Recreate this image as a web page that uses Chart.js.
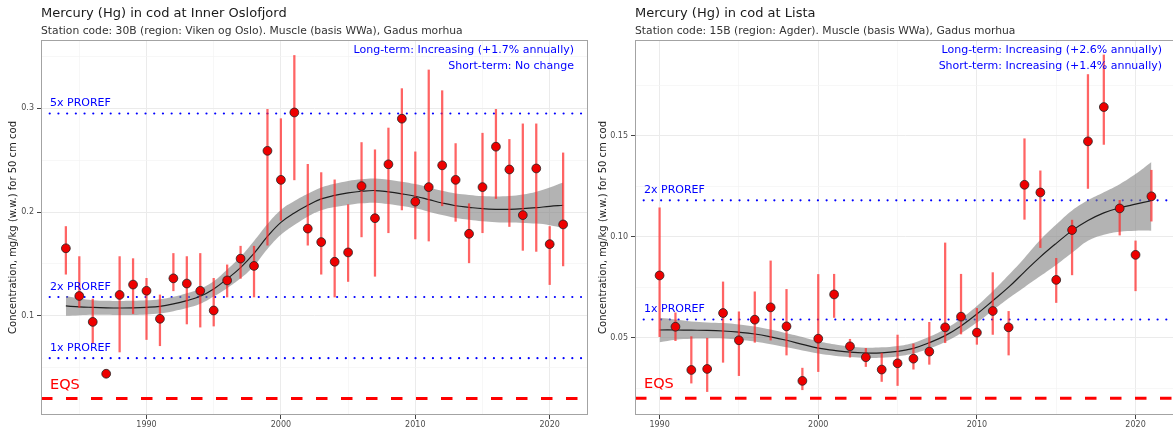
<!DOCTYPE html>
<html>
<head>
<meta charset="utf-8">
<script src="https://cdn.jsdelivr.net/npm/chart.js@4.4.0/dist/chart.umd.min.js"></script>
<style>
  html, body { margin: 0; padding: 0; background: #fff; overflow: hidden; width: 1173px; height: 432px; }
  .panel { position: absolute; top: 0; height: 432px; }
  #left { left: 0; width: 590px; }
  #right { left: 590px; width: 586px; }
</style>
</head>
<body>
<div class="panel" id="left"><canvas id="oslo"></canvas></div>
<div class="panel" id="right"><canvas id="lista"></canvas></div>
<script>
// ---- Inner Oslofjord (30B) ----
const oslo_years = [1984, 1985, 1986, 1987, 1988, 1989, 1990, 1991, 1992, 1993, 1994, 1995, 1996, 1997, 1998, 1999, 2000, 2001, 2002,
  2003, 2004, 2005, 2006, 2007, 2008, 2009, 2010, 2011, 2012, 2013, 2014, 2015, 2016, 2017, 2018, 2019, 2020, 2021];
const oslo_conc = [0.165, 0.119, 0.094, 0.044, 0.120, 0.130, 0.124, 0.097, 0.136, 0.131, 0.124, 0.105, 0.134, 0.155, 0.148, 0.259, 0.231, 0.296, 0.184,
  0.171, 0.152, 0.161, 0.225, 0.194, 0.246, 0.290, 0.210, 0.224, 0.245, 0.231, 0.179, 0.224, 0.263, 0.241, 0.197, 0.242, 0.169, 0.188];
const oslo_low = [0.140, 0.108, 0.073, 0.042, 0.065, 0.102, 0.077, 0.071, 0.124, 0.092, 0.089, 0.090, 0.118, 0.136, 0.118, 0.168, 0.192, 0.231, 0.168,
  0.140, 0.118, 0.133, 0.176, 0.138, 0.180, 0.202, 0.174, 0.172, 0.206, 0.191, 0.151, 0.180, 0.213, 0.186, 0.163, 0.162, 0.130, 0.148];
const oslo_high = [0.186, 0.157, 0.116, 0.046, 0.157, 0.155, 0.136, 0.120, 0.160, 0.157, 0.160, 0.136, 0.149, 0.167, 0.167, 0.299, 0.290, 0.351, 0.246,
  0.238, 0.231, 0.207, 0.267, 0.260, 0.281, 0.319, 0.258, 0.337, 0.317, 0.266, 0.208, 0.276, 0.299, 0.270, 0.285, 0.285, 0.186, 0.257];
const oslo_fit = [0.1094, 0.1085, 0.1080, 0.1076, 0.1074, 0.1075, 0.1080, 0.1090, 0.1113, 0.1145, 0.1187, 0.1258, 0.1355, 0.1464, 0.1600, 0.1764, 0.1900, 0.1990, 0.2065,
  0.2126, 0.2160, 0.2184, 0.2200, 0.2207, 0.2194, 0.2175, 0.2152, 0.2120, 0.2087, 0.2060, 0.2045, 0.2032, 0.2026, 0.2026, 0.2032, 0.2042, 0.2055, 0.2065];
const oslo_fit_low = [0.1000, 0.1005, 0.1010, 0.1008, 0.1006, 0.1007, 0.1012, 0.1021, 0.1043, 0.1073, 0.1114, 0.1185, 0.1265, 0.1360, 0.1480, 0.1644, 0.1780, 0.1875, 0.1955,
  0.2016, 0.2048, 0.2068, 0.2084, 0.2090, 0.2077, 0.2058, 0.2035, 0.2003, 0.1970, 0.1942, 0.1925, 0.1910, 0.1902, 0.1898, 0.1895, 0.1888, 0.1873, 0.1845];
const oslo_fit_high = [0.1190, 0.1165, 0.1150, 0.1144, 0.1142, 0.1143, 0.1148, 0.1159, 0.1183, 0.1217, 0.1260, 0.1331, 0.1445, 0.1568, 0.1720, 0.1884, 0.2020, 0.2105, 0.2175,
  0.2236, 0.2272, 0.2300, 0.2316, 0.2324, 0.2311, 0.2292, 0.2269, 0.2237, 0.2204, 0.2178, 0.2165, 0.2154, 0.2150, 0.2154, 0.2169, 0.2196, 0.2237, 0.2285];
const oslo_proref_times = [1, 2, 5];
const oslo_y_major = [0.1, 0.2, 0.3];
const oslo_y_minor = [0.05, 0.15, 0.25, 0.35];

// ---- Lista (15B) ----
const lista_years = [1990, 1991, 1992, 1993, 1994, 1995, 1996, 1997, 1998, 1999, 2000, 2001, 2002, 2003, 2004, 2005,
  2006, 2007, 2008, 2009, 2010, 2011, 2012, 2013, 2014, 2015, 2016, 2017, 2018, 2019, 2020, 2021];
const lista_conc = [0.0808, 0.0554, 0.0340, 0.0345, 0.0622, 0.0487, 0.0589, 0.0650, 0.0556, 0.0286, 0.0495, 0.0714, 0.0457, 0.0403, 0.0342, 0.0373,
  0.0396, 0.0431, 0.0551, 0.0604, 0.0525, 0.0632, 0.0551, 0.1257, 0.1219, 0.0786, 0.1033, 0.1472, 0.1642, 0.1140, 0.0910, 0.1200];
const lista_low = [0.0505, 0.0485, 0.0275, 0.0233, 0.0378, 0.0312, 0.0477, 0.0488, 0.0414, 0.0242, 0.0332, 0.0600, 0.0403, 0.0357, 0.0283, 0.0263,
  0.0344, 0.0368, 0.0475, 0.0518, 0.0467, 0.0516, 0.0414, 0.1086, 0.0946, 0.0674, 0.0811, 0.1239, 0.1457, 0.1008, 0.0732, 0.1077];
const lista_high = [0.1143, 0.0623, 0.0505, 0.0497, 0.0776, 0.0628, 0.0727, 0.0880, 0.0739, 0.0349, 0.0813, 0.0814, 0.0492, 0.0447, 0.0423, 0.0513,
  0.0469, 0.0576, 0.0969, 0.0814, 0.0645, 0.0822, 0.0630, 0.1485, 0.1326, 0.0893, 0.1082, 0.1803, 0.1900, 0.1180, 0.0979, 0.1329];
const lista_fit = [0.0538, 0.0538, 0.0537, 0.0536, 0.0533, 0.0527, 0.0518, 0.0504, 0.0487, 0.0467, 0.0448, 0.0437, 0.0428, 0.0424, 0.0425, 0.0432,
  0.0447, 0.0475, 0.0510, 0.0558, 0.0617, 0.0683, 0.0750, 0.0826, 0.0900, 0.0967, 0.1030, 0.1080, 0.1118, 0.1143, 0.1161, 0.1178];
const lista_fit_low = [0.0477, 0.0490, 0.0495, 0.0496, 0.0496, 0.0490, 0.0481, 0.0467, 0.0452, 0.0436, 0.0421, 0.0411, 0.0404, 0.0400, 0.0401, 0.0407,
  0.0421, 0.0446, 0.0479, 0.0522, 0.0575, 0.0635, 0.0695, 0.0750, 0.0805, 0.0860, 0.0920, 0.0980, 0.1010, 0.1025, 0.1030, 0.1030];
const lista_fit_high = [0.0598, 0.0590, 0.0580, 0.0575, 0.0572, 0.0565, 0.0555, 0.0540, 0.0522, 0.0503, 0.0482, 0.0467, 0.0456, 0.0450, 0.0452, 0.0459,
  0.0474, 0.0504, 0.0543, 0.0594, 0.0657, 0.0730, 0.0810, 0.0895, 0.0985, 0.1060, 0.1130, 0.1180, 0.1220, 0.1260, 0.1310, 0.1370];
const lista_proref_times = [1, 2];
const lista_y_major = [0.05, 0.10, 0.15];
const lista_y_minor = [0.025, 0.075, 0.125, 0.175];

const proref = 0.059;
const eqs = 0.02;
const x_major = [1990, 2000, 2010, 2020];
const x_minor = [1985, 1995, 2005, 2015];

Chart.defaults.font.family = "'DejaVu Sans', sans-serif";

const FONT = "'DejaVu Sans', sans-serif";

function pts(xs, ys) {
  return xs.map((x, i) => ({ x, y: ys[i] }));
}

function is_major(v, majors) {
  return majors.some((m) => Math.abs(m - v) < 1e-9);
}

function tick_major(c, majors) {
  return !!(c && c.tick && is_major(c.tick.value, majors));
}

// text, border and line labels drawn on top of the panel
const panel_text = {
  id: "panel_text",
  afterDraw(chart, args, opts) {
    const { ctx, chartArea: a, scales } = chart;
    const y = scales.y;
    ctx.save();

    ctx.strokeStyle = "#a3a3a3";
    ctx.lineWidth = 1;
    ctx.strokeRect(a.left + 0.5, a.top + 0.5, a.right - a.left - 1, a.bottom - a.top - 1);

    ctx.textAlign = "left";
    ctx.textBaseline = "alphabetic";
    ctx.fillStyle = "#1a1a1a";
    ctx.font = "13px " + FONT;
    ctx.fillText(opts.title, a.left, 17);
    ctx.fillStyle = "#333";
    ctx.font = "10.75px " + FONT;
    ctx.fillText(opts.subtitle, a.left, 34);

    ctx.fillStyle = "blue";
    ctx.font = "11px " + FONT;
    opts.proref_times.forEach((k) => {
      ctx.fillText(k + "x PROREF", a.left + 9, y.getPixelForValue(k * proref) - 7.5);
    });
    ctx.fillStyle = "red";
    ctx.font = "14.5px " + FONT;
    ctx.fillText("EQS", a.left + 9, y.getPixelForValue(eqs) - 10);

    ctx.textAlign = "right";
    ctx.fillStyle = "blue";
    ctx.font = "11px " + FONT;
    ctx.fillText(opts.trend[0], opts.trend_right, 52.5);
    ctx.fillText(opts.trend[1], opts.trend_right, 69);

    ctx.translate(13, (a.top + a.bottom) / 2);
    ctx.rotate(-Math.PI / 2);
    ctx.textAlign = "center";
    ctx.textBaseline = "middle";
    ctx.fillStyle = "#222";
    ctx.font = "10px " + FONT;
    ctx.fillText("Concentration, mg/kg (w.w.) for 50 cm cod", 0, 0);
    ctx.restore();
  },
};

function make_panel(id, p) {
  const hline = (v, color, width, dash, cap, order) => ({
    type: "line",
    data: [{ x: p.x_range[0], y: v }, { x: p.x_range[1], y: v }],
    borderColor: color,
    borderWidth: width,
    borderDash: dash,
    borderCapStyle: cap,
    pointRadius: 0,
    fill: false,
    order,
  });

  const datasets = [
    hline(eqs, "red", 3, [11.5, 13.5], "butt", 10),
    ...p.proref_times.map((k) => hline(k * proref, "blue", 2.2, [0.01, 8.7], "round", 10)),
    {
      type: "line",
      data: pts(p.years, p.fit_low),
      borderWidth: 0,
      pointRadius: 0,
      tension: 0.4,
      fill: false,
      order: 8,
    },
    {
      type: "line",
      data: pts(p.years, p.fit_high),
      borderWidth: 0,
      pointRadius: 0,
      tension: 0.4,
      fill: "-1",
      backgroundColor: "rgba(128,128,128,0.6)",
      order: 7,
    },
    {
      type: "line",
      data: pts(p.years, p.fit),
      borderColor: "#1e1e1e",
      borderWidth: 1.2,
      pointRadius: 0,
      tension: 0.4,
      fill: false,
      order: 6,
    },
    {
      type: "bar",
      data: p.years.map((x, i) => ({ x, y: [p.low[i], p.high[i]] })),
      backgroundColor: "rgba(255,40,40,0.72)",
      borderWidth: 0,
      barThickness: 1.6,
      grouped: false,
      order: 5,
    },
    {
      type: "scatter",
      data: pts(p.years, p.conc),
      backgroundColor: "#ee0000",
      borderColor: "#222",
      borderWidth: 0.8,
      pointRadius: 4.4,
      order: 1,
    },
  ];

  const x_ticks = [...x_minor, ...x_major]
    .filter((v) => v >= p.x_range[0] && v <= p.x_range[1])
    .sort((a, b) => a - b);
  const y_ticks = [...p.y_minor, ...p.y_major]
    .filter((v) => v >= p.y_range[0] && v <= p.y_range[1])
    .sort((a, b) => a - b);

  return new Chart(document.getElementById(id), {
    type: "scatter",
    data: { datasets },
    options: {
      animation: false,
      responsive: true,
      maintainAspectRatio: false,
      devicePixelRatio: 1,
      events: [],
      layout: { autoPadding: false, padding: { top: 40, left: 0, right: p.pad_right, bottom: 0 } },
      plugins: {
        legend: { display: false },
        tooltip: { enabled: false },
        panel_text: {
          title: p.title,
          subtitle: p.subtitle,
          trend: p.trend,
          trend_right: p.trend_right,
          proref_times: p.proref_times,
        },
      },
      scales: {
        x: {
          type: "linear",
          offset: false,
          min: p.x_range[0],
          max: p.x_range[1],
          afterBuildTicks: (axis) => { axis.ticks = x_ticks.map((value) => ({ value })); },
          afterFit: (axis) => {
            axis.height = 17;
            axis.paddingLeft = 0;
            axis.paddingRight = 0;
          },
          border: { display: false },
          grid: {
            offset: false,
            color: (c) => (tick_major(c, x_major) ? "#ebebeb" : "#f4f4f4"),
            lineWidth: (c) => (tick_major(c, x_major) ? 1 : 0.7),
            tickColor: (c) => (tick_major(c, x_major) ? "#444" : "rgba(0,0,0,0)"),
            tickLength: 4,
          },
          ticks: {
            autoSkip: false,
            maxRotation: 0,
            padding: 1,
            color: "#4d4d4d",
            font: { size: 8 },
            callback: (v) => (is_major(v, x_major) ? String(v) : ""),
          },
        },
        y: {
          type: "linear",
          min: p.y_range[0],
          max: p.y_range[1],
          afterBuildTicks: (axis) => { axis.ticks = y_ticks.map((value) => ({ value })); },
          afterFit: (axis) => {
            axis.width = p.y_width;
            axis.paddingTop = 0;
            axis.paddingBottom = 0;
          },
          border: { display: false },
          grid: {
            offset: false,
            color: (c) => (tick_major(c, p.y_major) ? "#ebebeb" : "#f4f4f4"),
            lineWidth: (c) => (tick_major(c, p.y_major) ? 1 : 0.7),
            tickColor: (c) => (tick_major(c, p.y_major) ? "#444" : "rgba(0,0,0,0)"),
            tickLength: 4,
          },
          ticks: {
            autoSkip: false,
            padding: 3,
            color: "#4d4d4d",
            font: { size: 8 },
            callback: (v) => (is_major(v, p.y_major) ? v.toFixed(p.y_digits) : ""),
          },
        },
      },
    },
    plugins: [panel_text],
  });
}

make_panel("oslo", {
  title: "Mercury (Hg) in cod at Inner Oslofjord",
  subtitle: "Station code: 30B (region: Viken og Oslo). Muscle (basis WWa), Gadus morhua",
  trend: ["Long-term: Increasing (+1.7% annually)", "Short-term: No change"],
  trend_right: 574,
  years: oslo_years,
  conc: oslo_conc,
  low: oslo_low,
  high: oslo_high,
  fit: oslo_fit,
  fit_low: oslo_fit_low,
  fit_high: oslo_fit_high,
  proref_times: oslo_proref_times,
  y_major: oslo_y_major,
  y_minor: oslo_y_minor,
  y_digits: 1,
  x_range: [1982.15, 2022.85],
  y_range: [0.0042, 0.3659],
  y_width: 41,
  pad_right: 2,
});

make_panel("lista", {
  title: "Mercury (Hg) in cod at Lista",
  subtitle: "Station code: 15B (region: Agder). Muscle (basis WWa), Gadus morhua",
  trend: ["Long-term: Increasing (+2.6% annually)", "Short-term: Increasing (+1.4% annually)"],
  trend_right: 572,
  years: lista_years,
  conc: lista_conc,
  low: lista_low,
  high: lista_high,
  fit: lista_fit,
  fit_low: lista_fit_low,
  fit_high: lista_fit_high,
  proref_times: lista_proref_times,
  y_major: lista_y_major,
  y_minor: lista_y_minor,
  y_digits: 2,
  x_range: [1988.45, 2022.55],
  y_range: [0.0117, 0.1974],
  y_width: 45,
  pad_right: 0,
});
</script>
</body>
</html>
